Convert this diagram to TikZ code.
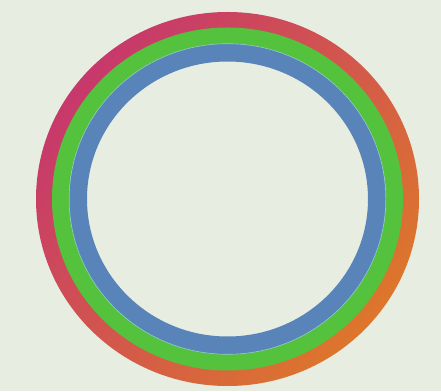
\documentclass[tikz,border=0pt]{standalone}
\usepackage{tikz}
\usepackage{xcolor}

\definecolor{paper}{HTML}{E8EDE1}
\definecolor{ringmagenta}{HTML}{C7386C}
\definecolor{ringred}{HTML}{CF4646}
\definecolor{ringorange}{HTML}{DD762C}
\definecolor{ringgreen}{HTML}{55C23E}
\definecolor{ringblue}{HTML}{5884B9}
\definecolor{ringcyan}{HTML}{A9DCE4}

\begin{document}
\begin{tikzpicture}[
    x=1pt, y=1pt,
    greenring/.style={
        draw=ringgreen,
        line width=17pt
    },
    bluering/.style={
        draw=ringblue,
        line width=18pt
    },
    seam/.style={
        draw=ringcyan!70!ringgreen,
        line width=0.6pt
    }
]
% Paper
\fill[paper] (0,0) rectangle (441,391);
\useasboundingbox (0,0) rectangle (441,391);
\coordinate (c) at (227.5,192);

% Outer ring, magenta to orange
\shade[even odd rule, top color=ringmagenta, middle color=ringred,
       bottom color=ringorange, shading angle=50]
    (c) ellipse [x radius=191.5, y radius=187]
    (c) ellipse [x radius=175, y radius=170.5];

% Green ring
\draw[greenring] (c) ellipse [x radius=167, y radius=163];

% Blue ring
\draw[bluering] (c) ellipse [x radius=149.5, y radius=146.5];
\draw[seam] (c) ellipse [x radius=158.3, y radius=155.3];
\end{tikzpicture}
\end{document}
